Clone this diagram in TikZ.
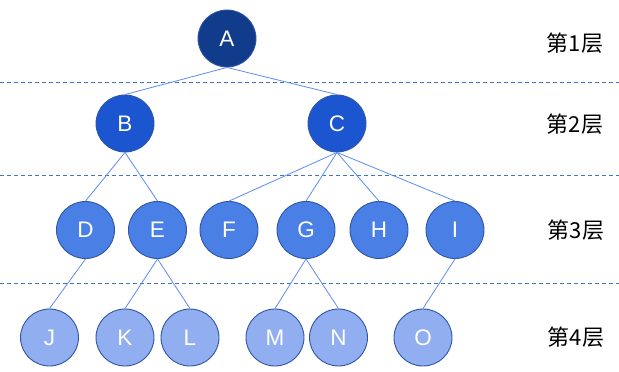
\documentclass[tikz,border=0pt]{standalone}
\usepackage{fontspec}
\setmainfont{Liberation Sans}
\newfontfamily\cjk{Noto Sans CJK SC}
\usetikzlibrary{shapes.geometric}
\definecolor{edgeblue}{HTML}{5B8DEF}
\definecolor{dashblue}{HTML}{4472C4}
\definecolor{borderblue}{HTML}{2F55A4}
\definecolor{lvla}{HTML}{113C8C}
\definecolor{lvlb}{HTML}{1B55D0}
\definecolor{lvlc}{HTML}{4A7FE6}
\definecolor{lvld}{HTML}{90AEF0}
\tikzset{
  treenode/.style={ellipse, draw=borderblue, line width=0.9pt, minimum width=58pt, minimum height=57pt, inner sep=0pt, text=white, font=\fontsize{22.5}{26}\selectfont},
  la/.style={treenode, fill=lvla},
  lb/.style={treenode, fill=lvlb},
  lc/.style={treenode, fill=lvlc},
  ld/.style={treenode, fill=lvld},
  edge/.style={draw=edgeblue, line width=0.8pt},
  sep/.style={draw=dashblue, line width=0.8pt, dash pattern=on 4pt off 3pt},
  lvllabel/.style={font=\cjk\fontsize{22}{26}\selectfont, text=black}
}
\begin{document}
\begin{tikzpicture}[x=1pt,y=-1pt]
\useasboundingbox (0,0) rectangle (619,372);
% separators
\coordinate (s1l) at (0,82); \coordinate (s1r) at (619,82);
\coordinate (s2l) at (0,175); \coordinate (s2r) at (619,175);
\coordinate (s3l) at (0,283); \coordinate (s3r) at (619,283);
\draw[sep] (s1l) -- (s1r);
\draw[sep] (s2l) -- (s2r);
\draw[sep] (s3l) -- (s3r);
% nodes
\node[la] (A) at (227,38.5) {A};
\node[lb] (B) at (125,123.5) {B};
\node[lb] (C) at (337,123.5) {C};
\node[lc] (D) at (85.5,230) {D};
\node[lc] (E) at (157.5,230) {E};
\node[lc] (F) at (229,230) {F};
\node[lc] (G) at (306,230) {G};
\node[lc] (H) at (379,230) {H};
\node[lc] (I) at (455,230) {I};
\node[ld] (J) at (49.5,337.5) {J};
\node[ld] (K) at (125,337.5) {K};
\node[ld] (L) at (190,337.5) {L};
\node[ld] (M) at (275,337.5) {M};
\node[ld] (N) at (338.5,337.5) {N};
\node[ld] (O) at (423,337.5) {O};
% edges
\foreach \p/\c in {A/B,A/C,B/D,B/E,C/F,C/G,C/H,C/I,D/J,E/K,E/L,G/M,G/N,I/O}
  \draw[edge] (\p.south) -- (\c.north);
% level labels
\node[lvllabel] (l1) at (575,43) {第1层};
\node[lvllabel] (l2) at (575,124) {第2层};
\node[lvllabel] (l3) at (576,230) {第3层};
\node[lvllabel] (l4) at (576,337) {第4层};
\end{tikzpicture}
\end{document}
